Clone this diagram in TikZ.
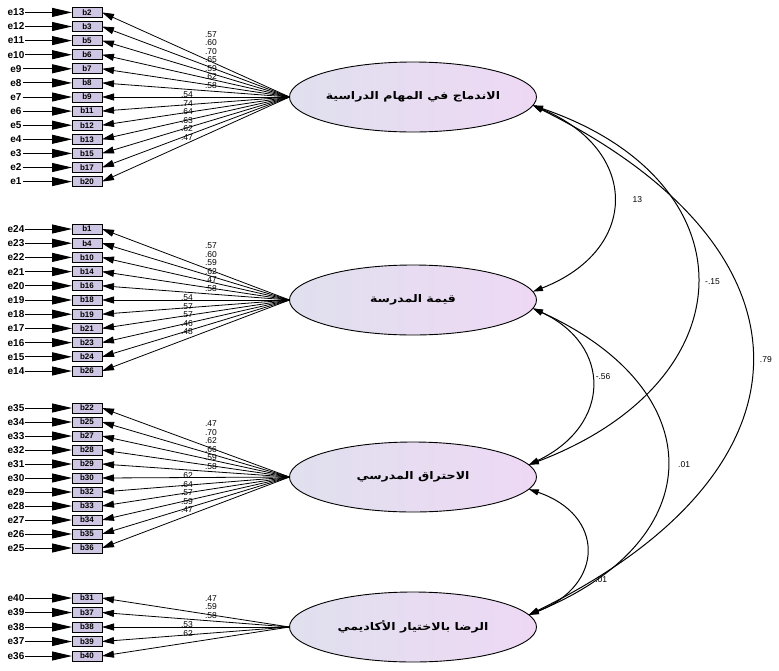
\documentclass[tikz,border=0pt]{standalone}
\usepackage{fontspec}
\setmainfont{Liberation Sans}
\newfontfamily\arabicfont[Script=Arabic,FakeStretch=1.2]{DejaVu Sans}
\TeXXeTstate=1
\usetikzlibrary{shapes.geometric,arrows.meta}

\definecolor{latleft}{RGB}{224,224,238}
\definecolor{latright}{RGB}{238,216,244}
\definecolor{obsfill}{RGB}{206,198,226}

\tikzset{
	latent/.style={ellipse, draw, line width=0.9pt, minimum width=247pt, minimum height=70pt,
		left color=latleft, right color=latright, inner xsep=-30pt, inner ysep=0pt, outer sep=0pt,
		font=\arabicfont\fontsize{10.5}{12}\selectfont\bfseries},
	obs/.style={rectangle, draw, line width=0.8pt, fill=obsfill, minimum width=30pt,
		minimum height=10pt, inner sep=0pt, outer sep=0pt, font=\fontsize{8}{8}\selectfont\bfseries},
	err/.style={inner sep=0pt, outer sep=1pt, font=\fontsize{10}{10}\selectfont\bfseries},
	errarrow/.style={line width=1pt, -{Triangle[length=20pt,width=9pt]}},
	load/.style={line width=0.8pt, -{Triangle[length=12pt,width=7pt]}},
	cov/.style={line width=1pt, {Triangle[length=10pt,width=6pt]}-{Triangle[length=10pt,width=6pt]}},
	wt/.style={font=\fontsize{8.5}{9}\selectfont, inner sep=0pt},
}

% #1 latent, #2 centre y, #3 row gap, #4 number of items, #5 error/item/weight
\newcommand{\indgroup}[5]{%
	\foreach \e/\b/\w [count=\i] in {#5} {
		\pgfmathsetmacro{\yy}{#2+(\i-(#4+1)/2)*#3}
		\pgfmathtruncatemacro{\up}{ceil(#4/2)}
		\node[obs] (\b) at (87,\yy) {\b};
		\node[err] (\e) at (16,\yy) {\e};
		\draw[errarrow] (\e) -- (\b);
		\draw[load] (#1.west) -- (\b.east);
		\ifnum\i>\up
			\pgfmathsetmacro{\wy}{#2-2+(\i-\up-1)*8.5}
			\node[wt] (w\b) at (187,\wy) {\w};
		\else
			\pgfmathsetmacro{\wy}{#2-8.5*\up-3+(\i-1)*8.5}
			\node[wt] (w\b) at (211,\wy) {\w};
		\fi
	}
}

\begin{document}
\begin{tikzpicture}[x=1pt, y=-1pt]

	\useasboundingbox (0,0) rectangle (779,670);

	\node[latent] (engage)  at (413,97)  {\beginR الاندماج في المهام الدراسية\endR};
	\node[latent] (value)   at (413,300) {\beginR قيمة المدرسة\endR};
	\node[latent] (burnout) at (413,477) {\beginR الاحتراق المدرسي\endR};
	\node[latent] (choice)  at (413,627) {\beginR الرضا بالاختيار الأكاديمي\endR};

	\indgroup{engage}{97}{14.1}{13}{e13/b2/.57, e12/b3/.60, e11/b5/.70, e10/b6/.65,
		e9/b7/.59, e8/b8/.62, e7/b9/.58, e6/b11/.54, e5/b12/.74, e4/b13/.64,
		e3/b15/.63, e2/b17/.62, e1/b20/.47}
	\indgroup{value}{300}{14.2}{11}{e24/b1/.57, e23/b4/.60, e22/b10/.59, e21/b14/.62,
		e20/b16/.47, e19/b18/.58, e18/b19/.54, e17/b21/.57, e16/b23/.57,
		e15/b24/.46, e14/b26/.48}
	\indgroup{burnout}{478}{14}{11}{e35/b22/.47, e34/b25/.70, e33/b27/.62, e32/b28/.66,
		e31/b29/.59, e30/b30/.58, e29/b32/.62, e28/b33/.64, e27/b34/.57,
		e26/b35/.59, e25/b36/.47}
	\indgroup{choice}{627}{14.5}{5}{e40/b31/.47, e39/b37/.59, e38/b38/.58,
		e37/b39/.53, e36/b40/.62}

	\draw[cov] (engage.-4.5) .. controls (640,150) and (640,250) .. (value.4.5)
		node[wt, pos=0.5, right=19pt] (r12) {13};
	\draw[cov] (engage.-4.5) .. controls (752,180) and (752,380) .. (burnout.6)
		node[wt, pos=0.5, right=8pt] (r13) {-.15};
	\draw[cov] (engage.-4.5) .. controls (825,250) and (825,470) .. (choice.6.5)
		node[wt, pos=0.5, right=8pt] (r14) {.79};
	\draw[cov] (value.-4.5) .. controls (612,345) and (612,425) .. (burnout.6)
		node[wt, pos=0.45, right=4pt] (r23) {-.56};
	\draw[cov] (value.-4.5) .. controls (712,390) and (712,540) .. (choice.6.5)
		node[wt, pos=0.5, right=11pt] (r24) {.01};
	\draw[cov] (burnout.-6) .. controls (605,515) and (605,585) .. (choice.6.5)
		node[wt, pos=0.7, right=18pt] (r34) {.01};

\end{tikzpicture}
\end{document}
